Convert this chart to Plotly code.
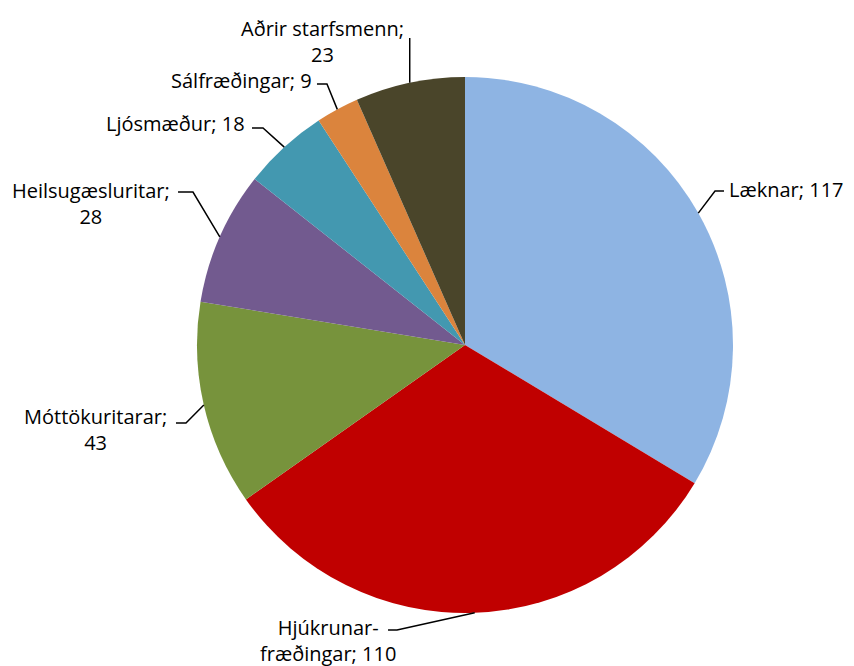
import math
import plotly.graph_objects as go

# Gögn
categories = ["Læknar", "Hjúkrunarfræðingar", "Móttökuritarar", "Heilsugæsluritar",
              "Ljósmæður", "Sálfræðingar", "Aðrir starfsmenn"]
values = [117, 110, 43, 28, 18, 9, 23]
label_texts = ["Læknar; 117", "Hjúkrunar-<br>fræðingar; 110", "Móttökuritarar;<br>43",
               "Heilsugæsluritar;<br>28", "Ljósmæður; 18", "Sálfræðingar; 9",
               "Aðrir starfsmenn;<br>23"]
colors = ["#8EB4E3", "#C00000", "#77933C", "#725A8F", "#4398B0", "#DB843D", "#4A452A"]

W, H = 854, 666
OFF = 8  # page body margin
CX, CY, R = 465, 345, 268  # pie centre / radius in screen pixels

# label layout (screen pixels): elbow point, end of horizontal stub, text anchor
LAYOUT = [
    dict(elbow=(715, 191), end=(724, 191), text=(727, 189), xanchor="left", align="left"),
    dict(elbow=(397, 630), end=(388, 630), text=(328, 640), xanchor="center", align="center"),
    dict(elbow=(186, 423), end=(176, 423), text=(95, 429), xanchor="center", align="center"),
    dict(elbow=(193, 192), end=(178, 192), text=(91, 203), xanchor="center", align="center"),
    dict(elbow=(263, 128), end=(252, 128), text=(247, 124), xanchor="right", align="right"),
    dict(elbow=(327, 84), end=(317, 84), text=(314, 80), xanchor="right", align="right"),
    dict(elbow=(None, 38), end=None, text=(322, 41), xanchor="center", align="center"),
]

FONT = dict(family="Open Sans, Calibri, sans-serif", size=20, color="#000000")


def px(x, y):
    return (x - OFF) / W, 1 - (y - OFF) / H


x0, y1 = px(CX - R, CY - R)
x1, y0 = px(CX + R, CY + R)

fig = go.Figure(go.Pie(
    labels=categories,
    values=values,
    sort=False,
    direction="clockwise",
    rotation=0,
    marker=dict(colors=colors, line=dict(width=0)),
    textinfo="none",
    hoverinfo="label+value",
    domain=dict(x=[x0, x1], y=[y0, y1]),
))

total = sum(values)
cum = 0
shapes, annotations = [], []
for v, txt, lay in zip(values, label_texts, LAYOUT):
    mid = (cum + v / 2) / total * 2 * math.pi
    cum += v
    sx = CX + R * math.sin(mid)
    sy = CY - R * math.cos(mid)
    ex, ey = lay["elbow"]
    if ex is None:
        ex = sx
    pts = [(sx, sy), (ex, ey)]
    if lay["end"] is not None:
        pts.append(lay["end"])
    path = "M " + " L ".join("%.4f,%.4f" % px(x, y) for x, y in pts)
    shapes.append(dict(type="path", path=path, xref="paper", yref="paper",
                       line=dict(color="black", width=1.5)))
    tx, ty = px(*lay["text"])
    annotations.append(dict(x=tx, y=ty, xref="paper", yref="paper", text=txt,
                            showarrow=False, xanchor=lay["xanchor"], yanchor="middle",
                            align=lay["align"], font=FONT))

fig.update_layout(
    width=W, height=H,
    margin=dict(l=0, r=0, t=0, b=0),
    showlegend=False,
    paper_bgcolor="white",
    plot_bgcolor="white",
    shapes=shapes,
    annotations=annotations,
)

fig.write_html("out.html")
